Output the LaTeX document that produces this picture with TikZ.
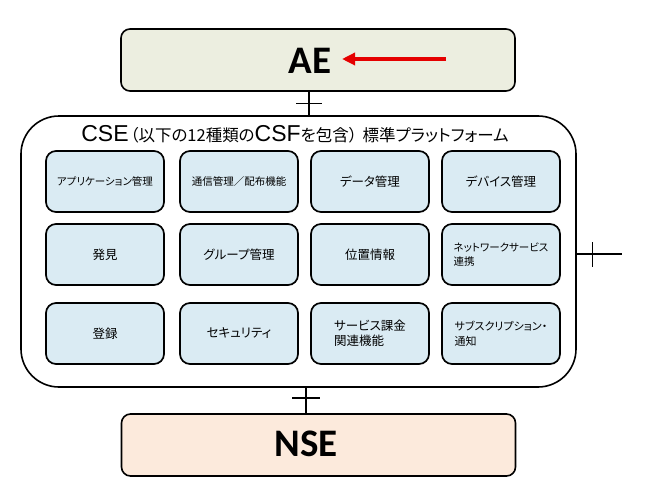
\documentclass[tikz,border=0pt]{standalone}
\usepackage{fontspec}
\setmainfont{Liberation Sans}
\newfontfamily\jp[RawFeature=+palt]{Noto Sans CJK JP}
\newfontfamily\calfont{Carlito}
\usetikzlibrary{arrows.meta,positioning,calc}
\definecolor{aefill}{HTML}{ECEEE0}
\definecolor{nsefill}{HTML}{FCEADC}
\definecolor{csffill}{HTML}{DAEBF3}
\tikzset{
  entblk/.style={draw,rectangle,rounded corners=9pt,line width=1.6pt,minimum width=394pt,minimum height=62pt,inner sep=0pt},
  aeblk/.style={entblk,fill=aefill},
  nseblk/.style={entblk,fill=nsefill},
  entlbl/.style={inner sep=0pt,font=\calfont\bfseries\fontsize{39}{40}\selectfont},
  cseblk/.style={draw,rectangle,rounded corners=38pt,line width=1.6pt,minimum width=555pt,minimum height=271pt,inner sep=0pt},
  csf/.style={draw,rectangle,rounded corners=10pt,line width=1.7pt,fill=csffill,minimum width=118pt,minimum height=61pt,inner sep=0pt,align=left,font=\jp\fontsize{12.5}{15}\selectfont},
  small/.style={font=\jp\fontsize{10.5}{14}\selectfont},
  link/.style={line width=1.3pt},
  redarr/.style={-{Triangle[length=13pt,width=12pt]},line width=3.8pt,red!90!black}
}

\begin{document}
\begin{tikzpicture}[x=1pt,y=-1pt]
  \useasboundingbox (0,0) rectangle (650,487);
  % Entities
  \node[aeblk] (AE) at (318,60) {};
  \node[entlbl] (AEtxt) at (310,61) {AE};
  \node[cseblk] (CSE) at (298.5,251.5) {};
  \node[nseblk] (NSE) at (318.5,445) {};
  \node[entlbl] (NSEtxt) at (306,444) {NSE};

  % CSE title
  \node (title) at (295,134) {{\fontsize{23}{26}\selectfont CSE}\,{\jp\fontsize{16.5}{20}\selectfont （以下の12種類の}{\fontsize{23}{26}\selectfont CSF}{\jp\fontsize{16.5}{20}\selectfont を包含）\,\,標準プラットフォーム}};

  % CSF row 1
  \node[csf,small] (app) at (105,181.5) {アプリケーション管理};
  \node[csf,small] (com) at (239,181.5) {通信管理／配布機能};
  \node[csf] (dat) at (370,181.5) {データ管理};
  \node[csf] (dev) at (501,181.5) {デバイス管理};
  % CSF row 2
  \node[csf] (dis) at (105,254.5) {発見};
  \node[csf] (grp) at (239,254.5) {グループ管理};
  \node[csf] (loc) at (370,254.5) {位置情報};
  \node[csf,small] (nws) at (501,254.5) {ネットワークサービス\\連携};
  % CSF row 3
  \node[csf] (reg) at (105,333.5) {登録};
  \node[csf] (sec) at (239,333.5) {セキュリティ};
  \node[csf] (chg) at (370,333.5) {サービス課金\\関連機能};
  \node[csf,font=\jp\fontsize{11}{15}\selectfont] (sub) at (501,333.5) {サブスクリプション・\\通知};

  % Reference points
  \coordinate (upx) at (309,0);
  \coordinate (dnx) at (306,0);
  \coordinate (outR) at (622,254);
  \coordinate (arrTail) at (446,59);
  \coordinate (arrHead) at (342,59);

  % Connectors with cross ticks
  \draw[link] (AE.south -| upx) -- (CSE.north -| upx);
  \draw[link] ($(AE.south -| upx)!0.5!(CSE.north -| upx)$) ++(-13,0) -- ++(26,0);
  \draw[link] (CSE.south -| dnx) -- (NSE.north -| dnx);
  \draw[link] ($(CSE.south -| dnx)!0.4!(NSE.north -| dnx)$) ++(-14,0) -- ++(28,0);
  \draw[link] (CSE.east |- outR) -- (outR);
  \draw[link] ($(CSE.east |- outR)!0.35!(outR)$) ++(0,-12) -- ++(0,25);

  % Red arrow
  \draw[redarr] (arrTail) -- (arrHead);
\end{tikzpicture}
\end{document}
